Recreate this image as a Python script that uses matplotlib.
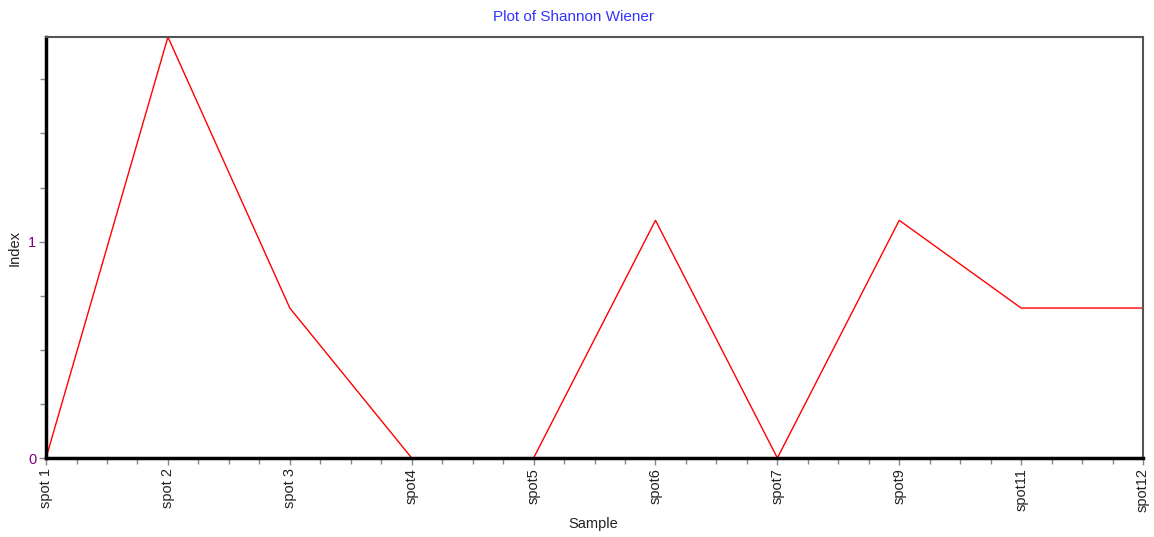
import numpy as np
import matplotlib.pyplot as plt
from matplotlib.ticker import MultipleLocator, AutoMinorLocator

plt.rcParams['font.family'] = ['Liberation Sans', 'DejaVu Sans']

# Shannon Wiener index per sample
samples = ['spot 1', 'spot 2', 'spot 3', 'spot4', 'spot5', 'spot6', 'spot7', 'spot9', 'spot11', 'spot12']
index_values = [0.0, 1.9459, 0.6931, 0.0, 0.0, 1.0986, 0.0, 1.0986, 0.6931, 0.6931]

fig = plt.figure(figsize=(11.54, 5.37), dpi=100)
ax = fig.add_axes([0.0399, 0.1471, 0.9506, 0.7840])

x = np.arange(len(samples))
ax.plot(x, index_values, '-', color='#ff0000', lw=1.0)

ax.set_xlim(0, len(samples) - 1)
ax.set_ylim(0, max(index_values))

ax.set_xticks(x)
ax.set_xticklabels(samples, rotation=90, fontsize=10.5, color='#222222')
ax.xaxis.set_minor_locator(AutoMinorLocator(4))
ax.yaxis.set_major_locator(MultipleLocator(1))
ax.yaxis.set_minor_locator(MultipleLocator(0.25))
for lab in ax.get_yticklabels():
    lab.set_fontsize(10.5)
    lab.set_color('#800080')

ax.tick_params(which='major', direction='out', length=5, width=1, color='#888888', pad=2)
ax.tick_params(which='minor', direction='out', length=4, width=1, color='#888888')

ax.spines['left'].set_linewidth(2.5)
ax.spines['bottom'].set_linewidth(2.5)
ax.spines['left'].set_color('#000000')
ax.spines['bottom'].set_color('#000000')
ax.spines['top'].set_linewidth(1.5)
ax.spines['right'].set_linewidth(1.5)
ax.spines['top'].set_color('#555555')
ax.spines['right'].set_color('#555555')

fig.text(0.497, 0.968, 'Plot of Shannon Wiener', ha='center', va='center', fontsize=11, color='#3333ff')
fig.text(0.514, 0.024, 'Sample', ha='center', va='center', fontsize=10.5, color='#222222')
fig.text(0.013, 0.538, 'Index', ha='center', va='center', rotation=90, fontsize=10.5, color='#222222')

plt.savefig('out.png', dpi=100)
